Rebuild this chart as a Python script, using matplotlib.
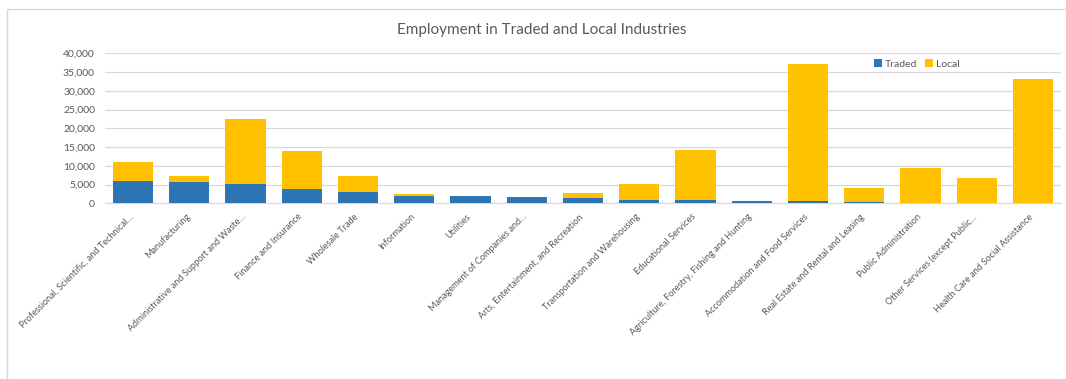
import matplotlib
matplotlib.use("Agg")
import matplotlib.pyplot as plt
from matplotlib.patches import Rectangle
from matplotlib.ticker import FuncFormatter, MultipleLocator
from matplotlib.transforms import ScaledTranslation

industries = [
    "Professional, Scientific, and Technical…",
    "Manufacturing",
    "Administrative and Support and Waste…",
    "Finance and Insurance",
    "Wholesale Trade",
    "Information",
    "Utilities",
    "Management of Companies and…",
    "Arts, Entertainment, and Recreation",
    "Transportation and Warehousing",
    "Educational Services",
    "Agriculture, Forestry, Fishing and Hunting",
    "Accommodation and Food Services",
    "Real Estate and Rental and Leasing",
    "Public Administration",
    "Other Services (except Public…",
    "Health Care and Social Assistance",
]

traded = [6000, 5700, 5250, 3900, 3000, 1950, 1870, 1690, 1420, 900, 880, 700, 700, 270, 0, 50, 0]
local = [4950, 1500, 17150, 10050, 4200, 530, 0, 0, 1250, 4250, 13350, 0, 36370, 3810, 9500, 6620, 33070]

BLUE = "#2E75B6"
GOLD = "#FFC000"
GRID = "#D9D9D9"
TEXT = "#595959"

plt.rcParams["font.family"] = ["Lato", "DejaVu Sans"]

fig = plt.figure(figsize=(10.66, 3.79), dpi=100)

# chart frame
fig.patches.append(Rectangle((7 / 1066, -0.1), 1.2, 1 - 9 / 379 + 0.1,
                             transform=fig.transFigure, fill=False,
                             edgecolor=GRID, linewidth=1.0))

ax = fig.add_axes([105 / 1066, 1 - 203.3 / 379, (1061 - 105) / 1066, 150 / 379])

x = list(range(len(industries)))
ax.bar(x, traded, width=0.715, color=BLUE, label="Traded", zorder=3)
ax.bar(x, local, width=0.715, bottom=traded, color=GOLD, label="Local", zorder=3)

ax.set_xlim(-0.5, len(industries) - 0.5)
ax.set_ylim(0, 40000)
ax.yaxis.set_major_locator(MultipleLocator(5000))
ax.yaxis.set_major_formatter(FuncFormatter(lambda v, p: f"{int(v):,}"))
ax.grid(axis="y", color=GRID, linewidth=0.9, zorder=0)

for s in ["top", "right", "left"]:
    ax.spines[s].set_visible(False)
ax.spines["bottom"].set_color(GRID)
ax.tick_params(axis="both", length=0, colors=TEXT, labelsize=7.5)
ax.tick_params(axis="y", pad=7.2)

ax.set_xticks(x)
ax.set_xticklabels(industries, rotation=45, ha="right", rotation_mode="anchor",
                   fontsize=6.6, color=TEXT)
shift = ScaledTranslation(-0.04, -0.04, fig.dpi_scale_trans)
for lbl in ax.get_xticklabels():
    lbl.set_transform(lbl.get_transform() + shift)

fig.text(542 / 1066, 1 - 30 / 379, "Employment in Traded and Local Industries",
         ha="center", va="center", fontsize=11, color=TEXT)

ax.legend(loc="center", bbox_to_anchor=(917 / 1066, 1 - 64 / 379),
          bbox_transform=fig.transFigure, ncol=2, frameon=False,
          fontsize=7.5, handlelength=0.7, handleheight=0.7, handletextpad=0.3,
          columnspacing=0.8, labelcolor=TEXT)

fig.savefig("out.png", dpi=100)
